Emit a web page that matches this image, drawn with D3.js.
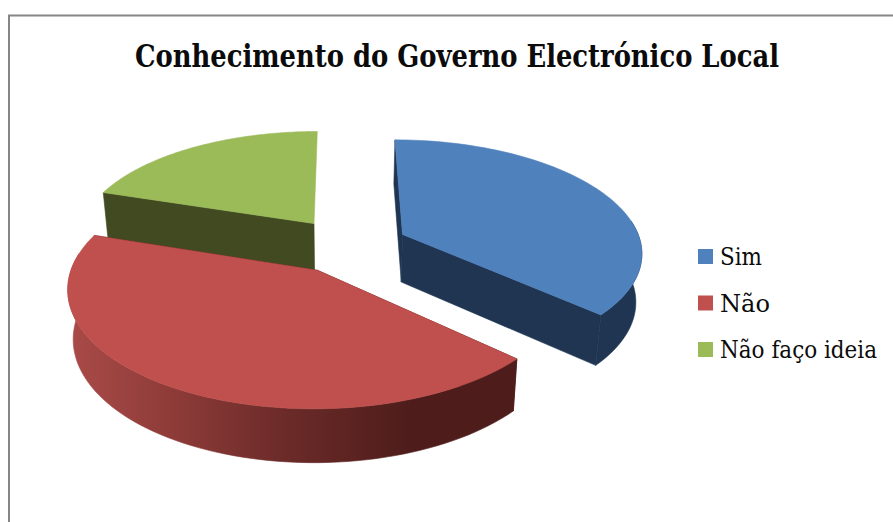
<!DOCTYPE html>
<html lang="pt">
<head>
<meta charset="utf-8">
<script src="https://cdn.jsdelivr.net/npm/d3@7/dist/d3.min.js"></script>
<style>
  html, body { margin: 0; padding: 0; background: #fff; }
  svg { display: block; }
  text { font-family: "DejaVu Serif Condensed", "DejaVu Serif", serif; fill: #0b0b0b; }
</style>
</head>
<body>
<svg id="chart" width="893" height="522"></svg>
<script>
// Chart content
const chartTitle = "Conhecimento do Governo Electrónico Local";
const categories = ["Sim", "Não", "Não faço ideia"];
const shares = [36.8, 43.2, 20];
const topColors = ["#4F81BD", "#C0504D", "#9BBB59"];
const wallColors = ["#1F3552", "#4F1D1B", "#414A21"];

// Camera and pie settings for the tilted, exploded pie
const radius = 239;
const explode = 60;
const focal = 1680;                // ground distance at which things shrink to half
const groundHeight = 780;          // screen drop from horizon to the pie centre
const vanishX = 341, vanishY = -534.5;
const offsetX = 7.5;
const wallLean = 0.02, wallAxisX = 340;

const svg = d3.select("#chart");

// Ground point (x to the right, y going away from the viewer) to screen position
function project(x, y) {
  const w = 1 + y / focal;
  return { x: vanishX + (x + offsetX) / w, y: vanishY + groundHeight / w, w };
}
// The same point at the underside of the slab
function drop(p) {
  return [p.x - wallLean * (p.x - wallAxisX), p.y + 20 + 28 / p.w];
}

const pie = d3.pie().sort(null);
const slices = pie(shares);

function rimPoints(s) {
  const mid = (s.startAngle + s.endAngle) / 2;
  const ox = explode * Math.sin(mid), oy = explode * Math.cos(mid);
  const steps = d3.range(0, 1.0001, 1 / 80);
  const rim = steps.map(t => {
    const a = s.startAngle + t * (s.endAngle - s.startAngle);
    return { ...project(ox + radius * Math.sin(a), oy + radius * Math.cos(a)), near: Math.cos(a) < 0.15 };
  });
  return { apex: project(ox, oy), rim };
}

const line = d3.line().x(d => d[0]).y(d => d[1]);
const xy = p => [p.x, p.y];

// Horizontal shading along the rim of the largest slice
const defs = svg.append("defs");
const shade = defs.append("linearGradient")
  .attr("id", "rimShade")
  .attr("gradientUnits", "userSpaceOnUse")
  .attr("x1", 74).attr("x2", 410).attr("y1", 0).attr("y2", 0);
[[0, "#A84A47"], [0.3, "#8D3B38"], [0.6, "#6E2C2A"], [1, "#4E1D1B"]].forEach(([o, c]) =>
  shade.append("stop").attr("offset", o).attr("stop-color", c));

// Far slice first, nearest slice last
const paintOrder = [2, 0, 1];
const pieces = svg.append("g");
paintOrder.forEach(i => {
  const { apex, rim } = rimPoints(slices[i]);
  const g = pieces.append("g").attr("class", "slice");
  const wall = (a, b) => [xy(a), xy(b), drop(b), drop(a)];
  const solid = fill => sel => sel.attr("fill", fill).attr("stroke", fill).attr("stroke-width", 0.6);
  g.append("path").attr("d", line(wall(apex, rim[0])) + "Z").call(solid(wallColors[i]));
  // The closing wall and the rim of the far slice face away from the viewer
  if (i !== 2) {
    g.append("path").attr("d", line(wall(apex, rim[rim.length - 1])) + "Z").call(solid(wallColors[i]));
    const front = rim.filter(p => p.near);
    const rimWall = front.map(xy).concat(front.map(drop).reverse());
    g.append("path").attr("d", line(rimWall) + "Z")
      .call(solid(i === 1 ? "url(#rimShade)" : wallColors[i]));
  }
  g.append("path").attr("d", line([xy(apex), ...rim.map(xy)]) + "Z").call(solid(topColors[i]));
});

// Outer frame, running off the right and bottom of the page
svg.append("path")
  .attr("d", "M9,522V15.5H893")
  .attr("fill", "none").attr("stroke", "#868686").attr("stroke-width", 2);

svg.append("text")
  .attr("x", 135).attr("y", 67)
  .attr("font-size", 31).attr("font-weight", 700)
  .attr("textLength", 644).attr("lengthAdjust", "spacingAndGlyphs")
  .text(chartTitle);

// Legend
const legendY = d3.scalePoint().domain(categories).range([249, 342]);
const legendWidths = [42, 50, 157];
const legend = svg.append("g").selectAll("g").data(categories).join("g")
  .attr("transform", d => `translate(698,${legendY(d)})`);
legend.append("rect").attr("width", 15).attr("height", 15)
  .attr("fill", (d, i) => topColors[i]);
legend.append("text").attr("x", 22).attr("y", 16)
  .attr("font-size", 25)
  .attr("textLength", (d, i) => legendWidths[i]).attr("lengthAdjust", "spacingAndGlyphs")
  .text(d => d);
</script>
</body>
</html>
